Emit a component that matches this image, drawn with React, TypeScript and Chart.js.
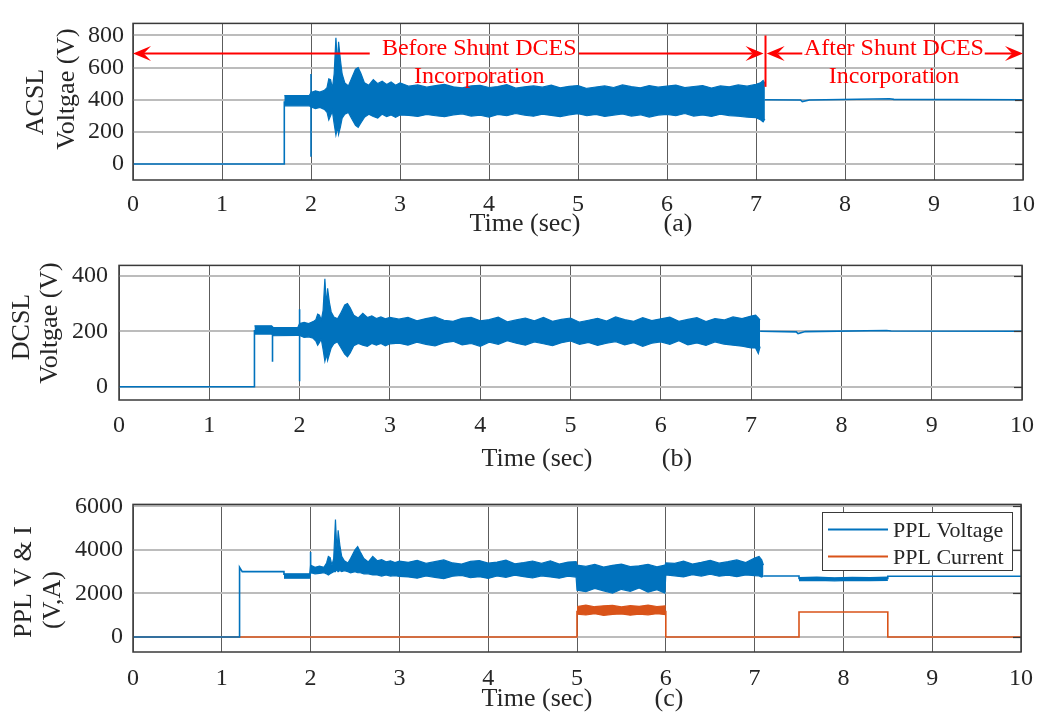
import React, { useEffect, useRef } from "react";
import { Chart, registerables } from "chart.js";
Chart.register(...registerables);

const FONT = "'Liberation Serif', 'Times New Roman', serif";
const BLUE = "#0072BD";
const ORANGE = "#D95319";
const RED = "#FF0000";
const TEXT = "#262626";

// ---------- tick values ----------
const timeTicks = [0, 1, 2, 3, 4, 5, 6, 7, 8, 9, 10];
const acslTicks = [0, 200, 400, 600, 800];
const dcslTicks = [0, 200, 400];
const pplTicks = [0, 2000, 4000, 6000];

// ---------- shared time bases ----------
const burstT = [2.0, 2.05, 2.1, 2.15, 2.18, 2.2, 2.22, 2.24, 2.26, 2.28, 2.29, 2.3, 2.31, 2.33, 2.35, 2.38, 2.42, 2.45, 2.5, 2.53, 2.56, 2.6, 2.65, 2.7, 2.75, 2.8, 2.85, 2.9, 2.95, 3.0];
const steadyT = [3.1, 3.2, 3.3, 3.4, 3.5, 3.6, 3.7, 3.8, 3.9, 4.0, 4.1, 4.2, 4.3, 4.4, 4.5, 4.6, 4.7, 4.8, 4.9, 5.0, 5.1, 5.2, 5.3, 5.4, 5.5, 5.6, 5.7, 5.8, 5.9, 6.0, 6.1, 6.2, 6.3, 6.4, 6.5, 6.6, 6.7, 6.8, 6.9, 7.0];

// ---------- (a) ACSL voltage ----------
const acslStartT = [0, 1.7, 1.7];
const acslStartV = [0, 0, 390];
const acslSpikeT = [2.0, 2.0];
const acslSpikeV = [45, 560];
const acslBandT = [1.7, 1.98, ...burstT, ...steadyT, 7.05, 7.08, 7.1];
const acslHi = [425, 425,
  445, 455, 448, 458, 475, 530, 525, 470, 560, 785, 690, 640, 760, 650, 560, 505, 485, 525, 590, 600, 565, 505, 490, 525, 500, 515, 495, 510, 490, 505,
  484, 492, 478, 488, 495, 480, 474, 486, 490, 476, 482, 494, 472, 480, 486, 478, 490, 474, 483, 488, 470, 479, 486, 476, 492, 481, 474, 488, 478, 484, 491, 475, 482, 488, 473, 486, 480, 492, 484, 496,
  505, 520, 500];
const acslLo = [362, 362,
  355, 345, 352, 340, 322, 275, 300, 330, 250, 180, 205, 240, 185, 230, 285, 310, 320, 290, 240, 228, 255, 290, 310, 295, 285, 310, 295, 305, 290, 305,
  302, 296, 308, 300, 294, 306, 312, 298, 303, 292, 308, 300, 314, 304, 297, 310, 302, 295, 306, 313, 300, 308, 296, 304, 311, 298, 306, 292, 304, 309, 300, 314, 298, 305, 296, 310, 301, 297, 292, 288,
  275, 262, 280];
const acslEndT = [7.1, 7.5, 7.52, 7.6, 8.5, 8.55, 10];
const acslEndV = [400, 398, 388, 398, 406, 402, 400];

// ---------- (b) DCSL voltage ----------
const dcslStartT = [0, 1.5, 1.5];
const dcslStartV = [0, 0, 205];
const dcslDipT = [1.7, 1.7];
const dcslDipV = [195, 90];
const dcslSpikeT = [2.0, 2.0];
const dcslSpikeV = [20, 280];
const dcslBandT = [1.5, 1.69, 1.71, 1.98, ...burstT, ...steadyT, 7.05, 7.08, 7.1];
const dcslHi = [220, 220, 213, 214,
  228, 232, 228, 235, 242, 262, 258, 240, 275, 390, 330, 305, 355, 305, 270, 252, 245, 262, 295, 300, 285, 258, 248, 265, 250, 256, 246, 252, 245, 250,
  244, 250, 238, 246, 252, 240, 236, 247, 250, 238, 242, 251, 234, 241, 248, 238, 250, 236, 243, 248, 233, 240, 247, 237, 252, 242, 236, 249, 239, 245, 251, 236, 243, 249, 235, 246, 241, 252, 246, 255,
  258, 248, 240];
const dcslLo = [190, 190, 184, 185,
  185, 178, 180, 175, 165, 150, 160, 172, 135, 92, 105, 115, 95, 118, 140, 155, 162, 145, 118, 108, 122, 148, 156, 150, 146, 156, 150, 156, 148, 155,
  157, 150, 161, 153, 147, 159, 164, 151, 156, 146, 161, 153, 166, 157, 150, 162, 155, 148, 159, 165, 153, 160, 149, 157, 163, 151, 159, 146, 157, 162, 153, 166, 151, 158, 149, 162, 154, 150, 146, 140,
  140, 120, 145];
const dcslEndT = [7.1, 7.5, 7.52, 7.6, 8.5, 8.55, 10];
const dcslEndV = [200, 198, 192, 199, 203, 201, 200];

// ---------- (c) PPL voltage & current ----------
const pplStartT = [0, 1.2, 1.2, 1.23, 1.7, 1.7];
const pplStartV = [0, 0, 3200, 3000, 3000, 2850];
const pplSpikeT = [2.0, 2.0];
const pplSpikeV = [2900, 3900];
const pplBandT = [1.7, 1.99, ...burstT,
  3.1, 3.2, 3.3, 3.4, 3.5, 3.6, 3.7, 3.8, 3.9, 4.0, 4.1, 4.2, 4.3, 4.4, 4.5, 4.6, 4.7, 4.8, 4.9, 4.99,
  5.0, 5.1, 5.2, 5.3, 5.4, 5.5, 5.6, 5.7, 5.8, 5.9, 5.99,
  6.0, 6.1, 6.2, 6.3, 6.4, 6.5, 6.6, 6.7, 6.8, 6.9, 7.0, 7.05, 7.08, 7.1];
const pplHi = [2900, 2900,
  3300, 3200, 3250, 3200, 3400, 3700, 3650, 3300, 3600, 5400, 4500, 4000, 4900, 4200, 3700, 3500, 3400, 3600, 4000, 4150, 3900, 3600, 3450, 3700, 3500, 3550, 3450, 3500, 3420, 3480,
  3430, 3520, 3380, 3460, 3540, 3400, 3350, 3470, 3510, 3390, 3440, 3530, 3360, 3420, 3490, 3380, 3500, 3350, 3440, 3460,
  3300, 3240, 3330, 3210, 3290, 3350, 3230, 3270, 3340, 3220, 3300,
  3400, 3380, 3480, 3350, 3430, 3520, 3390, 3460, 3540, 3420, 3620, 3700, 3550, 3300];
const pplLo = [2700, 2700,
  2950, 2900, 2920, 2950, 2900, 2850, 2900, 2950, 3000, 3000, 3100, 3050, 3000, 3050, 3000, 3050, 3000, 2950, 3000, 2950, 2950, 2900, 2900, 2850, 2850, 2800, 2850, 2800, 2820, 2780,
  2760, 2700, 2800, 2740, 2680, 2790, 2830, 2720, 2770, 2690, 2800, 2740, 2840, 2770, 2710, 2810, 2760, 2700, 2790, 2750,
  2150, 2080, 2230, 2120, 2010, 2190, 2100, 2250, 2060, 2170, 2020,
  2850, 2810, 2760, 2860, 2800, 2880, 2790, 2840, 2770, 2850, 2820, 2800, 2750, 2800];
const pplMidT = [7.1, 7.5, 7.5];
const pplMidV = [2800, 2800, 2650];
const pplBand2T = [7.5, 7.7, 7.9, 8.1, 8.3, 8.5];
const pplBand2Hi = [2730, 2750, 2720, 2740, 2730, 2750];
const pplBand2Lo = [2590, 2600, 2580, 2600, 2590, 2600];
const pplEndT = [8.5, 8.5, 10];
const pplEndV = [2650, 2790, 2790];

const curStartT = [0, 5, 5];
const curStartV = [0, 0, 1200];
const curBandT = [5.0, 5.1, 5.2, 5.3, 5.4, 5.5, 5.6, 5.7, 5.8, 5.9, 6.0];
const curHi = [1400, 1460, 1390, 1430, 1450, 1380, 1440, 1410, 1460, 1400, 1430];
const curLo = [1050, 1010, 1070, 990, 1040, 1060, 1000, 1050, 1020, 1070, 1030];
const curEndT = [6, 6, 7.5, 7.5, 8.5, 8.5, 10];
const curEndV = [1200, 0, 0, 1150, 1150, 0, 0];

const legendLabels = ["PPL Voltage", "PPL Current"];
const legendColors = [BLUE, ORANGE];

// ---------- helpers ----------
const pts = (t: number[], v: number[]) => t.map((x, i) => ({ x, y: v[i] }));

function lineDs(t: number[], v: number[], color: string, width = 1.6) {
  return { data: pts(t, v), borderColor: color, backgroundColor: color, borderWidth: width, pointRadius: 0, fill: false, tension: 0 };
}
function bandDs(t: number[], hi: number[], lo: number[], color: string) {
  return [
    { data: pts(t, hi), borderColor: color, borderWidth: 1.2, pointRadius: 0, fill: false, tension: 0 },
    { data: pts(t, lo), borderColor: color, backgroundColor: color, borderWidth: 1.2, pointRadius: 0, fill: "-1", tension: 0 },
  ];
}

function vText(ctx: CanvasRenderingContext2D, text: string, xBase: number, yCenter: number) {
  ctx.save();
  ctx.translate(xBase, yCenter);
  ctx.rotate(-Math.PI / 2);
  ctx.textAlign = "center";
  ctx.textBaseline = "alphabetic";
  ctx.fillText(text, 0, 0);
  ctx.restore();
}

function arrow(ctx: CanvasRenderingContext2D, xTail: number, xTip: number, y: number) {
  const dir = Math.sign(xTip - xTail);
  const L = 18, W = 7.5;
  ctx.beginPath();
  ctx.moveTo(xTail, y);
  ctx.lineTo(xTip - dir * L * 0.6, y);
  ctx.stroke();
  ctx.beginPath();
  ctx.moveTo(xTip, y);
  ctx.lineTo(xTip - dir * L, y - W);
  ctx.lineTo(xTip - dir * L * 0.6, y);
  ctx.lineTo(xTip - dir * L, y + W);
  ctx.closePath();
  ctx.fill();
}

const framePlugin = {
  id: "frame",
  afterDatasetsDraw(chart: any) {
    const { ctx, chartArea: a, scales } = chart;
    ctx.save();
    ctx.strokeStyle = "#3a3a3a";
    ctx.lineWidth = 1.5;
    ctx.strokeRect(a.left, a.top, a.right - a.left, a.bottom - a.top);
    ctx.lineWidth = 1.2;
    for (const t of scales.y.ticks) {
      const y = Math.round(scales.y.getPixelForValue(t.value)) + 0.5;
      ctx.beginPath();
      ctx.moveTo(a.right, y);
      ctx.lineTo(a.right - 8, y);
      ctx.stroke();
    }
    ctx.restore();
  },
};

type Spec = {
  datasets: any[];
  yMin: number; yMax: number; yTicks: number[];
  yWidth: number; xHeight: number; padTop: number; padRight: number;
  xPad: number; yPad: number;
  draw: (chart: any) => void;
};

function makeConfig(spec: Spec): any {
  return {
    type: "line",
    data: { datasets: spec.datasets },
    options: {
      animation: false,
      responsive: false,
      events: [],
      layout: { padding: { left: 0, right: spec.padRight, top: spec.padTop, bottom: 0 } },
      plugins: { legend: { display: false }, tooltip: { enabled: false } },
      scales: {
        x: {
          type: "linear", min: 0, max: 10,
          afterBuildTicks: (s: any) => { s.ticks = timeTicks.map((v) => ({ value: v })); },
          afterFit: (s: any) => { s.height = spec.xHeight; },
          ticks: { font: { family: FONT, size: 24 }, color: TEXT, padding: spec.xPad, maxRotation: 0, autoSkip: false, callback: (v: any) => String(v) },
          grid: { color: "#5c5c5c", lineWidth: 1, drawTicks: false },
          border: { display: false },
        },
        y: {
          type: "linear", min: spec.yMin, max: spec.yMax,
          afterBuildTicks: (s: any) => { s.ticks = spec.yTicks.map((v) => ({ value: v })); },
          afterFit: (s: any) => { s.width = spec.yWidth; },
          ticks: { font: { family: FONT, size: 24 }, color: TEXT, padding: spec.yPad, callback: (v: any) => String(v) },
          grid: { color: "#bcbcbc", lineWidth: 2, drawTicks: false },
          border: { display: false },
        },
      },
    },
    plugins: [framePlugin, { id: "texts", afterDraw: spec.draw }],
  };
}

function xTitle(ctx: CanvasRenderingContext2D, cx: number, base: number, tag: string, tagX: number) {
  ctx.save();
  ctx.fillStyle = TEXT;
  ctx.font = `26px ${FONT}`;
  ctx.textAlign = "center";
  ctx.textBaseline = "alphabetic";
  ctx.fillText("Time (sec)", cx, base);
  ctx.fillText(tag, tagX, base);
  ctx.restore();
}

export default function App() {
  const r1 = useRef<HTMLCanvasElement>(null);
  const r2 = useRef<HTMLCanvasElement>(null);
  const r3 = useRef<HTMLCanvasElement>(null);

  useEffect(() => {
    const cfgA = makeConfig({
      datasets: [
        lineDs(acslStartT, acslStartV, BLUE),
        lineDs(acslSpikeT, acslSpikeV, BLUE),
        ...bandDs(acslBandT, acslHi, acslLo, BLUE),
        lineDs(acslEndT, acslEndV, BLUE),
      ],
      yMin: -100, yMax: 875, yTicks: acslTicks,
      yWidth: 133, xHeight: 60, padTop: 12, padRight: 20, xPad: 10, yPad: 9,
      draw: (chart: any) => {
        const { ctx, scales } = chart;
        const sx = scales.x, sy = scales.y;
        ctx.save();
        ctx.fillStyle = TEXT;
        ctx.font = `26px ${FONT}`;
        vText(ctx, "ACSL", 43, 102);
        vText(ctx, "Voltgae (V)", 74, 89);
        ctx.restore();
        xTitle(ctx, 525, 231, "(a)", 678);
        // red annotations
        const ay = Math.round(sy.getPixelForValue(690)) + 0.5;
        ctx.save();
        ctx.strokeStyle = RED;
        ctx.fillStyle = RED;
        ctx.lineWidth = 2;
        arrow(ctx, sx.getPixelForValue(2.66), sx.getPixelForValue(0), ay);
        arrow(ctx, sx.getPixelForValue(5.01), sx.getPixelForValue(7.085), ay);
        arrow(ctx, sx.getPixelForValue(7.52), sx.getPixelForValue(7.12), ay);
        arrow(ctx, sx.getPixelForValue(9.57), sx.getPixelForValue(10), ay);
        const vx = Math.round(sx.getPixelForValue(7.1)) + 0.5;
        ctx.beginPath();
        ctx.moveTo(vx, sy.getPixelForValue(800));
        ctx.lineTo(vx, sy.getPixelForValue(480));
        ctx.stroke();
        ctx.font = `24px ${FONT}`;
        ctx.textAlign = "center";
        ctx.textBaseline = "alphabetic";
        const bx = sx.getPixelForValue(3.89);
        const fx = sx.getPixelForValue(8.55);
        ctx.fillText("Before Shunt DCES", bx, ay + 1);
        ctx.fillText("Incorporation", bx, ay + 29);
        ctx.fillText("After Shunt DCES", fx, ay + 1);
        ctx.fillText("Incorporation", fx, ay + 29);
        ctx.restore();
      },
    });

    const cfgB = makeConfig({
      datasets: [
        lineDs(dcslStartT, dcslStartV, BLUE),
        lineDs(dcslDipT, dcslDipV, BLUE),
        lineDs(dcslSpikeT, dcslSpikeV, BLUE),
        ...bandDs(dcslBandT, dcslHi, dcslLo, BLUE),
        lineDs(dcslEndT, dcslEndV, BLUE),
      ],
      yMin: -48, yMax: 438, yTicks: dcslTicks,
      yWidth: 119, xHeight: 80, padTop: 7, padRight: 19, xPad: 11, yPad: 11,
      draw: (chart: any) => {
        const { ctx } = chart;
        ctx.save();
        ctx.fillStyle = TEXT;
        ctx.font = `26px ${FONT}`;
        vText(ctx, "DCSL", 29, 327 - 240);
        vText(ctx, "Voltgae (V)", 57, 323 - 240);
        ctx.restore();
        xTitle(ctx, 537, 466 - 240, "(b)", 677);
      },
    });

    const cfgC = makeConfig({
      datasets: [
        lineDs(pplStartT, pplStartV, BLUE),
        lineDs(pplSpikeT, pplSpikeV, BLUE),
        ...bandDs(pplBandT, pplHi, pplLo, BLUE),
        lineDs(pplMidT, pplMidV, BLUE),
        ...bandDs(pplBand2T, pplBand2Hi, pplBand2Lo, BLUE),
        lineDs(pplEndT, pplEndV, BLUE),
        lineDs(curStartT, curStartV, ORANGE),
        ...bandDs(curBandT, curHi, curLo, ORANGE),
        lineDs(curEndT, curEndV, ORANGE),
      ],
      yMin: -690, yMax: 6090, yTicks: pplTicks,
      yWidth: 133, xHeight: 65, padTop: 24, padRight: 18, xPad: 12, yPad: 10,
      draw: (chart: any) => {
        const { ctx } = chart;
        ctx.save();
        ctx.fillStyle = TEXT;
        ctx.font = `26px ${FONT}`;
        vText(ctx, "PPL V & I", 31, 582 - 480);
        vText(ctx, "(V,A)", 60, 600 - 480);
        ctx.restore();
        xTitle(ctx, 537, 706 - 480, "(c)", 669);
        // legend
        ctx.save();
        ctx.fillStyle = "#ffffff";
        ctx.fillRect(822, 32, 190, 58);
        ctx.strokeStyle = "#3a3a3a";
        ctx.lineWidth = 1;
        ctx.strokeRect(822.5, 32.5, 190, 58);
        ctx.font = `22px ${FONT}`;
        ctx.textAlign = "left";
        ctx.textBaseline = "alphabetic";
        legendLabels.forEach((lab, i) => {
          const ly = 49.5 + i * 27;
          ctx.strokeStyle = legendColors[i];
          ctx.lineWidth = 1.8;
          ctx.beginPath();
          ctx.moveTo(828, ly);
          ctx.lineTo(888, ly);
          ctx.stroke();
          ctx.fillStyle = TEXT;
          ctx.fillText(lab, 893, 57 + i * 27);
        });
        ctx.restore();
      },
    });

    const charts = [
      new Chart(r1.current!, cfgA),
      new Chart(r2.current!, cfgB),
      new Chart(r3.current!, cfgC),
    ];
    return () => charts.forEach((c) => c.destroy());
  }, []);

  return (
    <div style={{ position: "absolute", left: 0, top: 0, width: 1045, height: 717, background: "#ffffff" }}>
      <canvas ref={r1} width={1045} height={240} style={{ position: "absolute", left: 0, top: 0 }} />
      <canvas ref={r2} width={1045} height={240} style={{ position: "absolute", left: 0, top: 240 }} />
      <canvas ref={r3} width={1045} height={237} style={{ position: "absolute", left: 0, top: 480 }} />
    </div>
  );
}
